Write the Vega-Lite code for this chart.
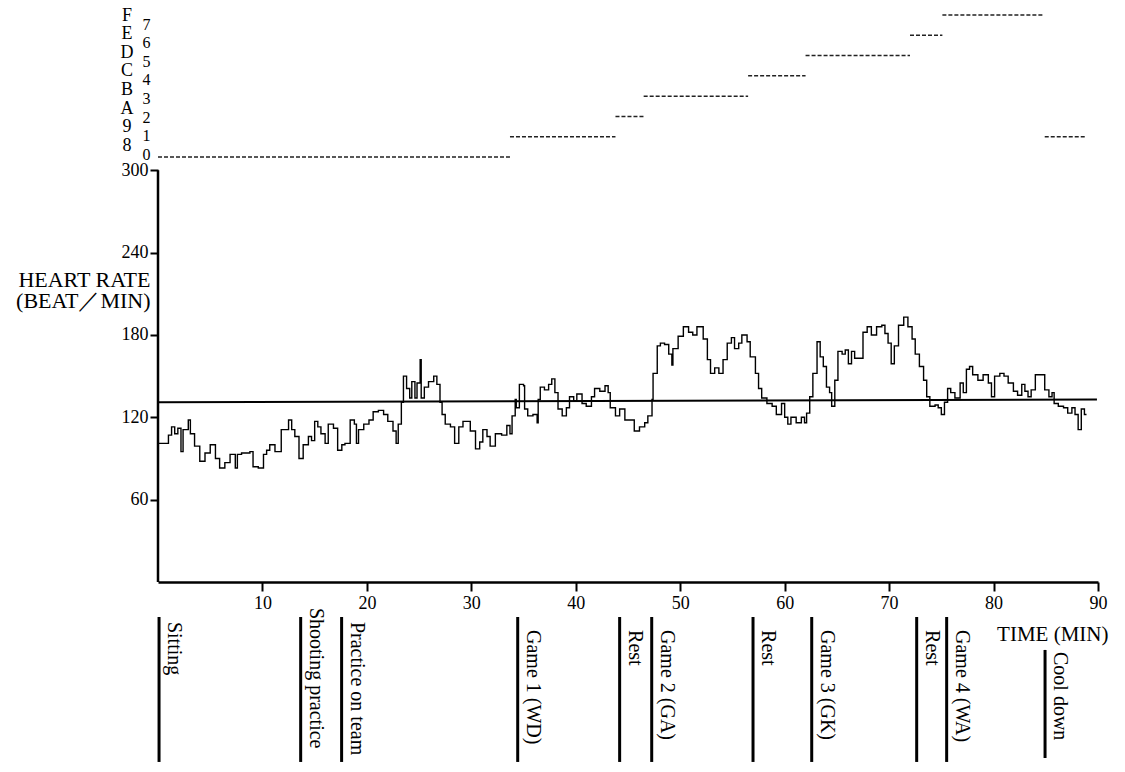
{
  "$schema": "https://vega.github.io/schema/vega-lite/v6.json",
  "width": 940,
  "height": 582,
  "autosize": {"type": "none"},
  "padding": {"left": 158, "top": 0, "right": 27, "bottom": 190},
  "background": "white",
  "config": {
    "view": {"stroke": null},
    "font": "Liberation Serif",
    "axis": {"labelFont": "Liberation Serif", "titleFont": "Liberation Serif", "labelColor": "black", "titleColor": "black", "domainColor": "black", "tickColor": "black", "grid": false, "titleFontWeight": "normal"},
    "text": {"font": "Liberation Serif", "color": "black"}
  },
  "datasets": {
    "hr": [
      {"t":0.0,"hr":101},{"t":0.6,"hr":101},{"t":1.0,"hr":107},{"t":1.3,"hr":113},{"t":1.6,"hr":108},{"t":1.9,"hr":112},{"t":2.2,"hr":95},{"t":2.4,"hr":111},{"t":2.9,"hr":118},{"t":3.1,"hr":108},{"t":3.5,"hr":99},{"t":4.0,"hr":88},{"t":4.5,"hr":94},{"t":5.0,"hr":100},{"t":5.5,"hr":90},{"t":5.9,"hr":83},{"t":6.4,"hr":87},{"t":6.9,"hr":93},{"t":7.4,"hr":83},{"t":7.6,"hr":93},{"t":8.0,"hr":94},{"t":8.8,"hr":95},{"t":9.1,"hr":84},{"t":9.6,"hr":83},{"t":10.1,"hr":93},{"t":10.4,"hr":96},{"t":10.7,"hr":100},{"t":11.2,"hr":95},{"t":11.6,"hr":95},{"t":11.8,"hr":111},{"t":12.5,"hr":118},{"t":12.8,"hr":111},{"t":13.1,"hr":106},{"t":13.5,"hr":90},{"t":13.9,"hr":100},{"t":14.4,"hr":106},{"t":14.7,"hr":103},{"t":15.0,"hr":117},{"t":15.3,"hr":113},{"t":15.6,"hr":108},{"t":16.0,"hr":101},{"t":16.3,"hr":115},{"t":16.8,"hr":112},{"t":17.2,"hr":96},{"t":17.6,"hr":100},{"t":17.9,"hr":101},{"t":18.4,"hr":118},{"t":18.8,"hr":115},{"t":19.0,"hr":101},{"t":19.2,"hr":111},{"t":19.7,"hr":115},{"t":20.2,"hr":118},{"t":20.6,"hr":124},{"t":21.1,"hr":125},{"t":21.6,"hr":122},{"t":22.0,"hr":117},{"t":22.5,"hr":110},{"t":22.8,"hr":101},{"t":23.0,"hr":115},{"t":23.3,"hr":131},{"t":23.5,"hr":150},{"t":23.8,"hr":141},{"t":24.1,"hr":134},{"t":24.3,"hr":146},{"t":24.6,"hr":134},{"t":24.8,"hr":145},{"t":25.1,"hr":162},{"t":25.2,"hr":134},{"t":25.5,"hr":142},{"t":25.9,"hr":146},{"t":26.4,"hr":150},{"t":26.7,"hr":144},{"t":27.0,"hr":131},{"t":27.2,"hr":122},{"t":27.5,"hr":115},{"t":28.0,"hr":113},{"t":28.4,"hr":101},{"t":28.8,"hr":113},{"t":29.2,"hr":117},{"t":29.9,"hr":110},{"t":30.4,"hr":97},{"t":30.8,"hr":102},{"t":31.1,"hr":111},{"t":31.5,"hr":106},{"t":31.8,"hr":99},{"t":32.3,"hr":108},{"t":32.9,"hr":107},{"t":33.4,"hr":114},{"t":33.7,"hr":108},{"t":33.9,"hr":121},{"t":34.2,"hr":133},{"t":34.3,"hr":127},{"t":34.6,"hr":144},{"t":35.0,"hr":143},{"t":35.1,"hr":126},{"t":35.4,"hr":121},{"t":35.9,"hr":122},{"t":36.3,"hr":116},{"t":36.4,"hr":133},{"t":36.6,"hr":142},{"t":37.0,"hr":140},{"t":37.4,"hr":144},{"t":37.7,"hr":148},{"t":38.0,"hr":138},{"t":38.3,"hr":126},{"t":38.7,"hr":121},{"t":39.1,"hr":127},{"t":39.4,"hr":135},{"t":39.8,"hr":132},{"t":40.1,"hr":137},{"t":40.6,"hr":130},{"t":41.0,"hr":128},{"t":41.5,"hr":135},{"t":41.8,"hr":141},{"t":42.3,"hr":139},{"t":42.8,"hr":143},{"t":43.1,"hr":138},{"t":43.3,"hr":127},{"t":43.8,"hr":121},{"t":44.2,"hr":126},{"t":44.7,"hr":118},{"t":45.2,"hr":118},{"t":45.6,"hr":110},{"t":46.1,"hr":113},{"t":46.6,"hr":116},{"t":46.9,"hr":121},{"t":47.3,"hr":133},{"t":47.4,"hr":152},{"t":47.8,"hr":172},{"t":48.1,"hr":174},{"t":48.5,"hr":173},{"t":48.9,"hr":166},{"t":49.2,"hr":158},{"t":49.3,"hr":170},{"t":49.8,"hr":179},{"t":50.3,"hr":186},{"t":50.8,"hr":182},{"t":51.2,"hr":180},{"t":51.6,"hr":186},{"t":51.9,"hr":186},{"t":52.2,"hr":177},{"t":52.6,"hr":162},{"t":52.9,"hr":152},{"t":53.3,"hr":156},{"t":53.7,"hr":152},{"t":54.1,"hr":162},{"t":54.5,"hr":174},{"t":54.9,"hr":178},{"t":55.2,"hr":170},{"t":55.6,"hr":174},{"t":55.9,"hr":180},{"t":56.4,"hr":175},{"t":56.7,"hr":164},{"t":57.2,"hr":152},{"t":57.5,"hr":141},{"t":57.8,"hr":134},{"t":58.3,"hr":130},{"t":58.8,"hr":128},{"t":59.2,"hr":122},{"t":59.7,"hr":130},{"t":60.0,"hr":120},{"t":60.3,"hr":115},{"t":60.6,"hr":120},{"t":61.1,"hr":116},{"t":61.6,"hr":120},{"t":61.9,"hr":116},{"t":62.1,"hr":123},{"t":62.4,"hr":135},{"t":62.7,"hr":152},{"t":63.1,"hr":175},{"t":63.4,"hr":164},{"t":63.7,"hr":157},{"t":64.0,"hr":142},{"t":64.3,"hr":138},{"t":64.5,"hr":128},{"t":64.8,"hr":147},{"t":65.1,"hr":168},{"t":65.5,"hr":166},{"t":65.8,"hr":169},{"t":66.1,"hr":159},{"t":66.4,"hr":168},{"t":66.7,"hr":163},{"t":67.2,"hr":163},{"t":67.5,"hr":182},{"t":67.9,"hr":186},{"t":68.3,"hr":180},{"t":68.8,"hr":186},{"t":69.3,"hr":187},{"t":69.6,"hr":181},{"t":69.9,"hr":174},{"t":70.2,"hr":159},{"t":70.5,"hr":172},{"t":70.9,"hr":187},{"t":71.4,"hr":193},{"t":71.8,"hr":186},{"t":72.2,"hr":177},{"t":72.5,"hr":166},{"t":72.9,"hr":157},{"t":73.3,"hr":147},{"t":73.6,"hr":135},{"t":73.9,"hr":128},{"t":74.4,"hr":129},{"t":74.7,"hr":127},{"t":75.0,"hr":122},{"t":75.3,"hr":131},{"t":75.6,"hr":141},{"t":75.9,"hr":138},{"t":76.3,"hr":134},{"t":76.8,"hr":145},{"t":77.1,"hr":138},{"t":77.4,"hr":155},{"t":77.7,"hr":157},{"t":78.0,"hr":151},{"t":78.5,"hr":147},{"t":79.0,"hr":151},{"t":79.5,"hr":145},{"t":79.8,"hr":135},{"t":80.1,"hr":150},{"t":80.6,"hr":152},{"t":81.0,"hr":150},{"t":81.4,"hr":145},{"t":81.9,"hr":139},{"t":82.3,"hr":136},{"t":82.7,"hr":144},{"t":83.0,"hr":139},{"t":83.3,"hr":135},{"t":83.6,"hr":140},{"t":84.0,"hr":151},{"t":84.6,"hr":151},{"t":84.9,"hr":140},{"t":85.3,"hr":135},{"t":85.6,"hr":138},{"t":85.8,"hr":130},{"t":86.2,"hr":128},{"t":86.7,"hr":127},{"t":87.1,"hr":123},{"t":87.5,"hr":127},{"t":87.8,"hr":122},{"t":88.1,"hr":111},{"t":88.4,"hr":126},{"t":88.7,"hr":122},{"t":88.9,"hr":122}
    ],
    "act": [
      {"t":0.1,"label":"Sitting"},
      {"t":13.66,"label":"Shooting practice"},
      {"t":17.58,"label":"Practice on team"},
      {"t":34.44,"label":"Game 1 (WD)"},
      {"t":44.2,"label":"Rest"},
      {"t":47.27,"label":"Game 2 (GA)"},
      {"t":56.97,"label":"Rest"},
      {"t":62.59,"label":"Game 3 (GK)"},
      {"t":72.64,"label":"Rest"},
      {"t":75.51,"label":"Game 4 (WA)"},
      {"t":84.93,"label":"Cool down"}
    ],
    "codes": [
      {"start":0.0,"end":33.7,"code":0},
      {"start":33.7,"end":43.8,"code":1},
      {"start":43.8,"end":46.5,"code":2},
      {"start":46.5,"end":56.5,"code":3},
      {"start":56.5,"end":62.0,"code":4},
      {"start":62.0,"end":72.0,"code":5},
      {"start":72.0,"end":75.1,"code":6},
      {"start":75.1,"end":84.8,"code":7},
      {"start":84.9,"end":88.9,"code":1}
    ],
    "codelabels": [
      {"code":0,"hex":"8"},{"code":1,"hex":"9"},{"code":2,"hex":"A"},{"code":3,"hex":"B"},
      {"code":4,"hex":"C"},{"code":5,"hex":"D"},{"code":6,"hex":"E"},{"code":7,"hex":"F"}
    ]
  },
  "layer": [
    {
      "layer": [
        {
          "data": {"values": [{}]},
          "mark": {"type": "rule", "strokeWidth": 2.5, "color": "black"},
          "encoding": {
            "x": {"datum": 0, "type": "quantitative", "scale": {"domain": [0, 90], "nice": false, "zero": false}},
            "y": {"datum": 0, "type": "quantitative", "scale": {"domain": [0, 424], "nice": false, "zero": false}},
            "y2": {"datum": 300}
          }
        },
        {
          "data": {"values": [{}]},
          "mark": {"type": "rule", "strokeWidth": 2, "color": "black"},
          "encoding": {
            "x": {"datum": 0, "type": "quantitative"},
            "x2": {"datum": 89.9},
            "y": {"datum": 131, "type": "quantitative"},
            "y2": {"datum": 133}
          }
        },
        {
          "data": {"name": "hr"},
          "mark": {"type": "line", "interpolate": "step-after", "color": "black", "strokeWidth": 1.4},
          "encoding": {
            "x": {
              "field": "t", "type": "quantitative",
              "scale": {"domain": [0, 90], "nice": false, "zero": false},
              "axis": {
                "values": [10, 20, 30, 40, 50, 60, 70, 80, 90],
                "title": "TIME (MIN)",
                "titleX": 950, "titleY": 58, "titleAlign": "right", "titleBaseline": "alphabetic", "titleFontSize": 21,
                "labelFontSize": 18, "tickSize": 9, "tickWidth": 2, "domainWidth": 2.5, "labelPadding": 3, "labelFlush": false
              }
            },
            "y": {
              "field": "hr", "type": "quantitative",
              "scale": {"domain": [0, 424], "nice": false, "zero": false},
              "axis": {
                "orient": "left",
                "values": [60, 120, 180, 240, 300],
                "domain": false, "tickSize": 8, "tickWidth": 2, "labelFontSize": 18, "labelPadding": 2,
                "title": ["HEART RATE", "(BEAT／MIN)"],
                "titleAngle": 0, "titleAlign": "right", "titleX": -8, "titleY": 286, "titleBaseline": "alphabetic",
                "titleFontSize": 22, "titleLineHeight": 21
              }
            }
          }
        },
        {
          "data": {"name": "act"},
          "transform": [{"filter": "datum.label !== 'Cool down'"}],
          "mark": {"type": "rule", "strokeWidth": 3, "color": "black"},
          "encoding": {
            "x": {"field": "t", "type": "quantitative"},
            "y": {"datum": -25.5, "type": "quantitative"},
            "y2": {"datum": -131.1}
          }
        },
        {
          "data": {"name": "act"},
          "transform": [{"filter": "datum.label === 'Cool down'"}],
          "mark": {"type": "rule", "strokeWidth": 3, "color": "black"},
          "encoding": {
            "x": {"field": "t", "type": "quantitative"},
            "y": {"datum": -49.5, "type": "quantitative"},
            "y2": {"datum": -128.2}
          }
        },
        {
          "data": {"name": "act"},
          "transform": [{"filter": "datum.label === 'Sitting' || datum.label === 'Practice on team'"}],
          "mark": {"type": "text", "angle": 90, "align": "left", "baseline": "middle", "dy": -15, "fontSize": 20},
          "encoding": {
            "x": {"field": "t", "type": "quantitative"},
            "y": {"datum": -29.1, "type": "quantitative"},
            "text": {"field": "label"}
          }
        },
        {
          "data": {"name": "act"},
          "transform": [{"filter": "datum.label === 'Shooting practice'"}],
          "mark": {"type": "text", "angle": 90, "align": "left", "baseline": "middle", "dy": -15, "fontSize": 20},
          "encoding": {
            "x": {"field": "t", "type": "quantitative"},
            "y": {"datum": -18.9, "type": "quantitative"},
            "text": {"field": "label"}
          }
        },
        {
          "data": {"name": "act"},
          "transform": [{"filter": "datum.label === 'Cool down'"}],
          "mark": {"type": "text", "angle": 90, "align": "left", "baseline": "middle", "dy": -15, "fontSize": 20},
          "encoding": {
            "x": {"field": "t", "type": "quantitative"},
            "y": {"datum": -51, "type": "quantitative"},
            "text": {"field": "label"}
          }
        },
        {
          "data": {"name": "act"},
          "transform": [{"filter": "datum.label !== 'Cool down' && datum.label !== 'Sitting' && datum.label !== 'Practice on team' && datum.label !== 'Shooting practice'"}],
          "mark": {"type": "text", "angle": 90, "align": "left", "baseline": "middle", "dy": -15, "fontSize": 20},
          "encoding": {
            "x": {"field": "t", "type": "quantitative"},
            "y": {"datum": -35, "type": "quantitative"},
            "text": {"field": "label"}
          }
        }
      ]
    },
    {
      "data": {"name": "codes"},
      "mark": {"type": "rule", "strokeWidth": 1.5, "strokeDash": [4, 2], "color": "#222222"},
      "encoding": {
        "x": {"field": "start", "type": "quantitative"},
        "x2": {"field": "end"},
        "y": {"field": "code", "type": "quantitative", "scale": {"domain": [-20.95, 7.739], "nice": false, "zero": false}, "axis": null}
      }
    },
    {
      "data": {"name": "codelabels"},
      "mark": {"type": "text", "align": "center", "baseline": "middle", "dx": -31, "dy": -8.5, "fontSize": 18},
      "encoding": {
        "x": {"datum": 0, "type": "quantitative"},
        "y": {
          "field": "code", "type": "quantitative",
          "scale": {"domain": [-22.93, 8.288], "nice": false, "zero": false},
          "axis": {"orient": "left", "values": [0, 1, 2, 3, 4, 5, 6, 7], "domain": false, "ticks": false, "labelPadding": 8, "labelFontSize": 16, "title": null, "grid": false}
        },
        "text": {"field": "hex"}
      }
    }
  ],
  "resolve": {"scale": {"y": "independent"}, "axis": {"y": "independent"}}
}
